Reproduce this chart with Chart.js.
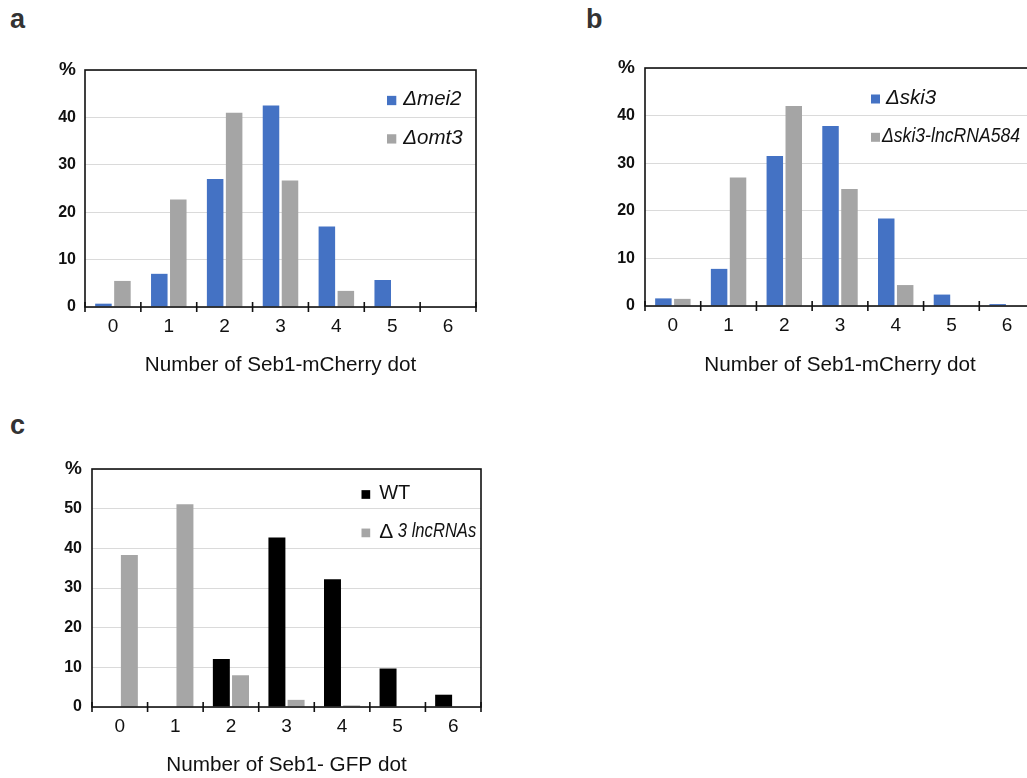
<!DOCTYPE html>
<html>
<head>
<meta charset="utf-8">
<script src="https://cdn.jsdelivr.net/npm/chart.js@4/dist/chart.umd.min.js"></script>
<style>
  html, body { margin: 0; padding: 0; background: #fff; overflow: hidden; width: 1027px; height: 778px; }
  canvas { position: absolute; }
  .plabel { position: absolute; font: bold 27px "Liberation Sans", Arial, sans-serif; line-height: 27px; color: #333; }
</style>
</head>
<body>
<div class="plabel" style="left:10px; top:6px;">a</div>
<div class="plabel" style="left:586px; top:6px;">b</div>
<div class="plabel" style="left:10px; top:412px;">c</div>
<canvas id="ca" width="500" height="390" style="left:0px; top:0px;"></canvas>
<canvas id="cb" width="500" height="390" style="left:560px; top:0px;"></canvas>
<canvas id="cc" width="510" height="388" style="left:0px; top:390px;"></canvas>
<script>
// ---- data ----
const dotCounts = ['0', '1', '2', '3', '4', '5', '6'];

const labelMei2 = 'Δmei2';
const labelOmt3 = 'Δomt3';
const valuesMei2 = [0.7, 7.0, 27.0, 42.5, 17.0, 5.7, 0];
const valuesOmt3 = [5.5, 22.7, 41.0, 26.7, 3.4, 0, 0];

const labelSki3 = 'Δski3';
const labelSki3Lnc = 'Δski3-lncRNA584';
const valuesSki3 = [1.6, 7.8, 31.5, 37.8, 18.4, 2.4, 0.4];
const valuesSki3Lnc = [1.5, 27.0, 42.0, 24.6, 4.4, 0, 0];

const labelWT = 'WT';
const labelLnc3 = 'Δ 3 lncRNAs';
const valuesWT = [0, 0, 12.1, 42.7, 32.2, 9.7, 3.1];
const valuesLnc3 = [38.3, 51.1, 8.0, 1.8, 0.4, 0, 0];

const titleAB = 'Number of Seb1-mCherry dot';
const titleC = 'Number of Seb1- GFP dot';
const yMaxAB = 50;
const yMaxC = 60;
const yStep = 10;

// ---- styling ----
const FONT = '"Liberation Sans", Arial, sans-serif';
const BLUE = '#4472C4';
const GRAY = '#A5A5A5';
const BLACK = '#000000';

const framePlugin = {
  id: 'frame',
  afterDraw(chart, args, opts) {
    const { ctx, chartArea: a } = chart;
    const xs = chart.scales.x;
    ctx.save();
    // frame
    ctx.strokeStyle = '#111';
    ctx.lineWidth = 1.6;
    ctx.strokeRect(a.left, a.top, a.right - a.left, a.bottom - a.top);
    // tick marks at category boundaries
    const n = chart.data.labels.length;
    const w = (xs.right - xs.left) / n;
    for (let i = 0; i <= n; i++) {
      const x = xs.left + i * w;
      ctx.beginPath();
      ctx.moveTo(x, a.bottom - 5);
      ctx.lineTo(x, a.bottom + 5);
      ctx.stroke();
    }
    // legend inside chart area
    const L = opts.legend;
    chart.data.datasets.forEach((ds, i) => {
      const it = L.items[i];
      const x = a.right - L.right;
      const y = a.top + L.top + i * L.gap;
      ctx.fillStyle = ds.backgroundColor;
      ctx.fillRect(x, y - L.box / 2, L.box, L.box);
      ctx.fillStyle = '#111';
      ctx.textBaseline = 'middle';
      ctx.textAlign = 'left';
      let tx = x + L.box + (it.pad !== undefined ? it.pad : L.pad);
      let text = ds.label;
      if (it.prefixFont) {
        ctx.font = it.prefixFont;
        const p = text.charAt(0);
        ctx.fillText(p, tx, y - 1);
        tx += ctx.measureText(p).width;
        text = text.slice(1);
      }
      ctx.font = it.font;
      if (it.maxWidth) ctx.fillText(text, tx, y - 1, it.maxWidth);
      else ctx.fillText(text, tx, y - 1);
    });
    ctx.restore();
  }
};

function makeChart(id, cfg) {
  const yMax = cfg.yMax;
  return new Chart(document.getElementById(id), {
    type: 'bar',
    data: {
      labels: dotCounts,
      datasets: cfg.series.map(s => ({
        label: s.label,
        data: s.data,
        backgroundColor: s.color,
        borderWidth: 0,
        categoryPercentage: cfg.catPct,
        barPercentage: cfg.barPct
      }))
    },
    options: {
      responsive: false,
      animation: false,
      devicePixelRatio: 1,
      layout: { padding: { top: cfg.padTop, right: cfg.padRight, bottom: 0, left: 0 } },
      plugins: {
        legend: { display: false },
        tooltip: { enabled: false },
        frame: { legend: cfg.legend }
      },
      scales: {
        x: {
          grid: { display: false, drawTicks: false },
          border: { display: false },
          ticks: { color: '#111', font: { family: FONT, size: 19 }, padding: 8, maxRotation: 0 },
          title: {
            display: true, text: cfg.title, color: '#111',
            font: { family: FONT, size: 20.7 }, padding: { top: 0, bottom: cfg.titlePadBottom }
          },
          afterFit: (s) => { s.height = cfg.xHeight; }
        },
        y: {
          min: 0, max: yMax,
          grid: { color: '#DADADA', lineWidth: 1, drawTicks: false },
          border: { display: false },
          ticks: {
            stepSize: yStep,
            padding: cfg.yPad,
            color: '#111',
            font: (c) => (c.tick && c.tick.value === yMax)
              ? { family: FONT, size: 19, weight: 'bold' }
              : { family: FONT, size: 16, weight: 'bold' },
            callback: (v) => (v === yMax ? '%' : String(v))
          },
          afterFit: (s) => { s.width = cfg.yWidth; }
        }
      }
    },
    plugins: [framePlugin]
  });
}

makeChart('ca', {
  yMax: yMaxAB, title: titleAB,
  series: [
    { label: labelMei2, data: valuesMei2, color: BLUE },
    { label: labelOmt3, data: valuesOmt3, color: GRAY }
  ],
  catPct: 0.68, barPct: 0.87,
  padTop: 70, padRight: 24, xHeight: 83, yWidth: 85, yPad: 9, titlePadBottom: 12,
  legend: { right: 89, top: 30.5, gap: 38.4, box: 9.3, pad: 7,
    items: [{ font: 'italic 20.5px ' + FONT }, { font: 'italic 20.5px ' + FONT }] }
});

makeChart('cb', {
  yMax: yMaxAB, title: titleAB,
  series: [
    { label: labelSki3, data: valuesSki3, color: BLUE },
    { label: labelSki3Lnc, data: valuesSki3Lnc, color: GRAY }
  ],
  catPct: 0.68, barPct: 0.87,
  padTop: 68, padRight: 25, xHeight: 84, yWidth: 85, yPad: 10, titlePadBottom: 12,
  legend: { right: 164, top: 31, gap: 38.3, box: 9, pad: 6,
    items: [{ font: 'italic 20.5px ' + FONT }, { font: 'italic 20px ' + FONT, pad: 2, maxWidth: 138 }] }
});

makeChart('cc', {
  yMax: yMaxC, title: titleC,
  series: [
    { label: labelWT, data: valuesWT, color: BLACK },
    { label: labelLnc3, data: valuesLnc3, color: '#A6A6A6' }
  ],
  catPct: 0.69, barPct: 0.885,
  padTop: 79, padRight: 29, xHeight: 71, yWidth: 92, yPad: 10, titlePadBottom: 0,
  legend: { right: 119.5, top: 25.5, gap: 38.4, box: 8.7, pad: 9,
    items: [{ font: '20px ' + FONT }, { prefixFont: '21px ' + FONT, font: 'italic 20px ' + FONT, maxWidth: 83 }] }
});
</script>
</body>
</html>
